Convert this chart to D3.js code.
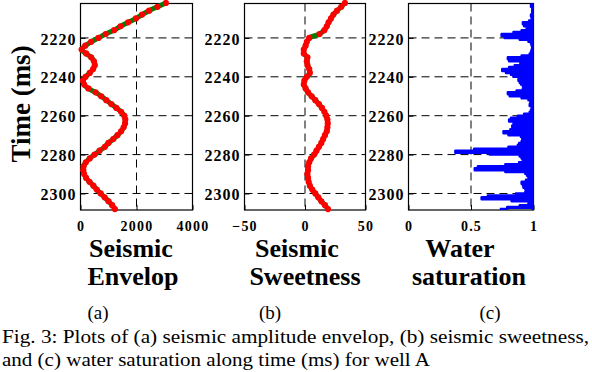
<!DOCTYPE html>
<html>
<head>
<meta charset="utf-8">
<script src="https://cdn.jsdelivr.net/npm/d3@7"></script>
<style>
  body { margin: 0; background: #fff; }
  svg { display: block; font-family: "Liberation Serif", "Times New Roman", serif; }
</style>
</head>
<body>
<svg id="chart" width="592" height="372"></svg>
<script>
// seismic attributes, sampled every 2 ms
var attrTime = [2202, 2204, 2206, 2208, 2210, 2212, 2214, 2216, 2218, 2220, 2222, 2224, 2226, 2228,
  2230, 2232, 2234, 2236, 2238, 2240, 2242, 2244, 2246, 2248, 2250, 2252, 2254, 2256, 2258,
  2260, 2262, 2264, 2266, 2268, 2270, 2272, 2274, 2276, 2278, 2280, 2282, 2284, 2286, 2288,
  2290, 2292, 2294, 2296, 2298, 2300, 2302, 2304, 2306, 2308];
var envelop = [3050, 2750, 2450, 2200, 1980, 1700, 1430, 1200, 900, 640, 380, 170, 40, 200,
  380, 480, 510, 450, 330, 180, 90, 130, 280, 540, 740, 920, 1100, 1280, 1450,
  1560, 1600, 1590, 1540, 1450, 1320, 1170, 1000, 870, 680, 500, 330, 190, 110, 100,
  130, 200, 320, 460, 580, 720, 860, 1000, 1130, 1230];
var sweetness = [33, 30, 26.5, 23.5, 21.5, 19.5, 18, 16, 12, 3.5, 1.5, 0.5, -1, -1,
  2, 1.5, 2, 3.5, 4, 1.5, -0.5, -1, 0.5, 2.5, 5.5, 8.5, 11.5, 14, 16,
  17.5, 18.5, 18.8, 18.5, 18, 16.5, 15, 13.5, 11.5, 9.5, 7.5, 5, 3.5, 2.5, 2.5,
  2, 2.5, 3, 4, 6, 8.5, 11, 13.5, 16.5, 19];

// water saturation log, every 1 ms
var swTime = [2202, 2203, 2204, 2205, 2206, 2207, 2208, 2209, 2210, 2211, 2212, 2213, 2214, 2215,
  2216, 2217, 2218, 2219, 2220, 2221, 2222, 2223, 2224, 2225, 2226, 2227, 2228, 2229,
  2230, 2231, 2232, 2233, 2234, 2235, 2236, 2237, 2238, 2239, 2240, 2241, 2242, 2243,
  2244, 2245, 2246, 2247, 2248, 2249, 2250, 2251, 2252, 2253, 2254, 2255, 2256, 2257,
  2258, 2259, 2260, 2261, 2262, 2263, 2264, 2265, 2266, 2267, 2268, 2269, 2270, 2271,
  2272, 2273, 2274, 2275, 2276, 2277, 2278, 2279, 2280, 2281, 2282, 2283, 2284, 2285,
  2286, 2287, 2288, 2289, 2290, 2291, 2292, 2293, 2294, 2295, 2296, 2297, 2298, 2299,
  2300, 2301, 2302, 2303, 2304, 2305, 2306, 2307, 2308];
var waterSat = [1.00, 0.97, 0.99, 1.00, 0.98, 1.00, 0.99, 0.97, 1.00, 0.98, 0.95, 0.88, 0.97, 0.96,
  0.93, 0.88, 0.80, 0.69, 0.85, 0.93, 0.99, 0.97, 1.00, 0.98, 1.00, 0.97, 0.99, 0.95,
  0.86, 0.73, 0.88, 0.92, 0.87, 0.83, 0.78, 0.72, 0.84, 0.80, 0.88, 0.90, 0.86, 0.92,
  0.88, 0.95, 0.93, 0.90, 0.83, 0.76, 0.86, 0.95, 0.97, 0.99, 0.96, 0.98, 1.00, 0.97,
  0.99, 0.95, 0.90, 0.85, 0.79, 0.82, 0.88, 0.80, 0.86, 0.83, 0.80, 0.72, 0.88, 0.92,
  0.90, 0.94, 0.87, 0.90, 0.85, 0.75, 0.30, 0.45, 0.85, 0.93, 0.88, 0.95, 0.92, 0.85,
  0.70, 0.41, 0.65, 0.90, 0.97, 0.93, 0.99, 0.96, 0.92, 0.89, 0.94, 0.90, 0.97, 0.95,
  0.92, 0.80, 0.47, 0.70, 0.95, 0.99, 0.93, 0.85, 0.73];

var timeTicks = [2220, 2240, 2260, 2280, 2300];
var envTicks = [0, 2000, 4000];
var sweetTicks = [-50, 0, 50];
var swTicks = [0, 0.5, 1];

var svg = d3.select("#chart");
var plotTop = 3.5, plotBottom = 210;
var y = d3.scaleLinear().domain([2202.3, 2308.5]).range([plotTop, plotBottom]);

// one track: frame, dashed grid, inward ticks, labels
function track(id, domain, left, right, xTicks, gridAt, fmt) {
  var x = d3.scaleLinear().domain(domain).range([left, right]);
  var g = svg.append("g");

  g.append("clipPath").attr("id", id)
    .append("rect").attr("x", left).attr("y", plotTop).attr("width", right - left).attr("height", plotBottom - plotTop);

  g.selectAll(".hgrid").data(timeTicks).enter().append("line")
    .attr("x1", left).attr("x2", right)
    .attr("y1", function(d) { return y(d); }).attr("y2", function(d) { return y(d); })
    .attr("stroke", "#000").attr("stroke-dasharray", "8,5");
  g.append("line")
    .attr("x1", x(gridAt)).attr("x2", x(gridAt)).attr("y1", plotTop).attr("y2", plotBottom)
    .attr("stroke", "#000").attr("stroke-dasharray", "8,5");

  var ya = g.append("g").attr("transform", "translate(" + left + ",0)")
    .call(d3.axisLeft(y).tickValues(timeTicks).tickFormat(d3.format("d")).tickSizeInner(-5).tickSizeOuter(0).tickPadding(4));
  ya.attr("font-family", null).attr("font-size", null);
  ya.select(".domain").remove();
  ya.selectAll("text").attr("font-size", 16).attr("font-weight", "bold").attr("letter-spacing", 1)
    .attr("fill", "#000").attr("dy", "0.38em");

  var xa = g.append("g").attr("transform", "translate(0," + plotBottom + ")")
    .call(d3.axisBottom(x).tickValues(xTicks).tickFormat(fmt).tickSizeInner(-5).tickSizeOuter(0).tickPadding(11));
  xa.attr("font-family", null).attr("font-size", null);
  xa.select(".domain").remove();
  xa.selectAll("text").attr("font-size", 14).attr("font-weight", "bold").attr("letter-spacing", 1.2)
    .attr("fill", "#000");

  g.append("rect").attr("x", left).attr("y", plotTop).attr("width", right - left).attr("height", plotBottom - plotTop)
    .attr("fill", "none").attr("stroke", "#000").attr("stroke-width", 1.2);

  return { x: x, g: g };
}

// green trace with red markers
function dottedTrace(t, values) {
  var pts = values.map(function(v, i) { return [v, attrTime[i]]; });
  t.g.append("path").datum(pts)
    .attr("d", d3.line().x(function(d) { return t.x(d[0]); }).y(function(d) { return y(d[1]); }).curve(d3.curveCatmullRom))
    .attr("fill", "none").attr("stroke", "#008000").attr("stroke-width", 5);
  t.g.selectAll(".dot").data(pts).enter().append("circle")
    .attr("cx", function(d) { return t.x(d[0]); }).attr("cy", function(d) { return y(d[1]); })
    .attr("r", 3.1).attr("fill", "#ff0000");
}

var a = track("clipA", [0, 4000], 80.5, 192.5, envTicks, 2000, d3.format("d"));
dottedTrace(a, envelop);

var b = track("clipB", [-50, 50], 244.5, 365.5, sweetTicks, 0, d3.format("d"));
dottedTrace(b, sweetness);

var c = track("clipC", [0, 1], 408.5, 533.5, swTicks, 0.5, d3.format(""));
var swPts = waterSat.map(function(v, i) { return [v, swTime[i]]; });
// filled toward Sw = 1, with a thick outline so single-sample spikes show as bars
c.g.append("path").datum(swPts)
  .attr("clip-path", "url(#clipC)")
  .attr("d", d3.area().y(function(d) { return y(d[1]); })
    .x0(function(d) { return c.x(1); }).x1(function(d) { return c.x(d[0]); }).curve(d3.curveStep))
  .attr("fill", "#0000ff");
c.g.append("path").datum(swPts)
  .attr("clip-path", "url(#clipC)")
  .attr("d", d3.line().x(function(d) { return c.x(d[0]); }).y(function(d) { return y(d[1]); }).curve(d3.curveStep))
  .attr("fill", "none").attr("stroke", "#0000ff").attr("stroke-width", 2.5).attr("stroke-linejoin", "round");
c.g.append("line").attr("clip-path", "url(#clipC)")
  .attr("x1", c.x(1)).attr("x2", c.x(1)).attr("y1", plotTop).attr("y2", plotBottom)
  .attr("stroke", "#0000ff").attr("stroke-width", 4);

// y axis title
svg.append("text").attr("transform", "translate(30,104) rotate(-90)")
  .attr("text-anchor", "middle").attr("font-size", 27).attr("font-weight", "bold").text("Time (ms)");

// track titles
var titles = [
  { text: "Seismic", x: 131, y: 257 }, { text: "Envelop", x: 133, y: 285 },
  { text: "Seismic", x: 297, y: 257 }, { text: "Sweetness", x: 305, y: 285 },
  { text: "Water", x: 460, y: 257 }, { text: "saturation", x: 469, y: 285 }
];
svg.selectAll(".title").data(titles).enter().append("text")
  .attr("x", function(d) { return d.x; }).attr("y", function(d) { return d.y; })
  .attr("text-anchor", "middle").attr("font-size", 26).attr("font-weight", "bold")
  .text(function(d) { return d.text; });

var letters = [{ text: "(a)", x: 98 }, { text: "(b)", x: 270 }, { text: "(c)", x: 490 }];
svg.selectAll(".letter").data(letters).enter().append("text")
  .attr("x", function(d) { return d.x; }).attr("y", 319)
  .attr("text-anchor", "middle").attr("font-size", 19)
  .text(function(d) { return d.text; });

// caption
svg.append("text").attr("x", 2).attr("y", 343).attr("font-size", 19)
  .attr("textLength", 587).attr("lengthAdjust", "spacingAndGlyphs")
  .text("Fig. 3: Plots of (a) seismic amplitude envelop, (b) seismic sweetness,");
svg.append("text").attr("x", 2).attr("y", 366).attr("font-size", 19)
  .attr("textLength", 428).attr("lengthAdjust", "spacingAndGlyphs")
  .text("and (c) water saturation along time (ms) for well A");
</script>
</body>
</html>
